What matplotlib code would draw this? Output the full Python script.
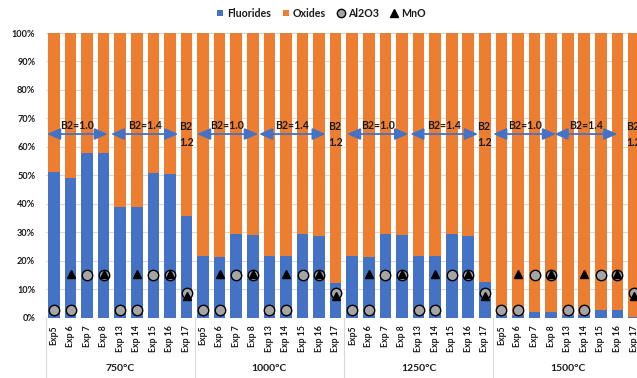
import numpy as np
import matplotlib
matplotlib.use("Agg")
import matplotlib.pyplot as plt
import matplotlib.transforms as mtransforms
from matplotlib.patches import Patch, FancyArrowPatch
from matplotlib.lines import Line2D

plt.rcParams['font.family'] = ['Lato', 'DejaVu Sans']

# --- data -------------------------------------------------------------
experiments = ["Exp5", "Exp 6", "Exp 7", "Exp 8", "Exp 13", "Exp 14", "Exp 15", "Exp 16", "Exp 17"]
temperatures = ["750°C", "1000°C", "1250°C", "1500°C"]

fluorides_750 = [51.0, 48.9, 57.7, 58.0, 38.7, 38.7, 50.7, 50.4, 35.6]
fluorides_1000 = [21.7, 21.4, 29.5, 29.0, 21.7, 21.7, 29.5, 28.8, 12.3]
fluorides_1250 = [21.7, 21.4, 29.5, 29.0, 21.8, 21.8, 29.5, 28.8, 12.5]
fluorides_1500 = [0.8, 0.8, 1.9, 1.9, 0.8, 0.8, 2.5, 2.5, 0.3]

oxides_750 = [49.0, 51.1, 42.3, 42.0, 61.3, 61.3, 49.3, 49.6, 64.4]
oxides_1000 = [78.3, 78.6, 70.5, 71.0, 78.3, 78.3, 70.5, 71.2, 87.7]
oxides_1250 = [78.3, 78.6, 70.5, 71.0, 78.2, 78.2, 70.5, 71.2, 87.5]
oxides_1500 = [99.2, 99.2, 98.1, 98.1, 99.2, 99.2, 97.5, 97.5, 99.7]

al2o3 = [2.5, 2.5, 14.8, 14.8, 2.5, 2.5, 14.8, 14.8, 8.6]
mno = [np.nan, 15.4, np.nan, 15.4, np.nan, 15.4, np.nan, 15.4, 7.5]

b2_labels = ["B2=1.0", "B2=1.4", "B2\n1.2"]

# --- assemble ---------------------------------------------------------
fluorides = np.array(fluorides_750 + fluorides_1000 + fluorides_1250 + fluorides_1500)
oxides = np.array(oxides_750 + oxides_1000 + oxides_1250 + oxides_1500)
al2o3_all = np.array(al2o3 * 4)
mno_all = np.array(mno * 4)
labels = experiments * 4
n_exp = len(experiments)
x = np.arange(len(labels))

BLUE = "#4472C4"
ORANGE = "#ED7D31"
GREY = "#A5A5A5"
GRID = "#D9D9D9"
TXT = "#1a1a1a"

fig = plt.figure(figsize=(6.37, 3.78), dpi=100)
ax = fig.add_axes([0.0717, 0.160, 0.9366, 0.7526])

ax.bar(x, fluorides, width=0.7, color=BLUE, zorder=2)
ax.bar(x, oxides, bottom=fluorides, width=0.7, color=ORANGE, zorder=2)
ax.plot(x, al2o3_all, ls="none", marker="o", ms=7.5, mfc=GREY, mec="black",
        mew=1.0, zorder=4, clip_on=False)
ax.plot(x, mno_all, ls="none", marker="^", ms=5.5, color="black", zorder=5,
        clip_on=False)

ax.set_xlim(-0.5, len(labels) - 0.5)
ax.set_ylim(0, 100)
ax.set_yticks(np.arange(0, 101, 10))
ax.set_yticklabels([f"{v}%" for v in range(0, 101, 10)])
ax.yaxis.grid(True, color=GRID, lw=0.8, zorder=0)
ax.set_axisbelow(True)
for s in ax.spines.values():
    s.set_visible(False)
ax.axhline(0, color=GRID, lw=0.8, zorder=1)

ax.set_xticks(x)
ax.set_xticklabels(labels, rotation=90, ha="center", va="top")
ax.tick_params(axis="x", length=0, pad=5.5, labelsize=6.3, labelcolor=TXT)
ax.tick_params(axis="y", length=0, pad=7.5, labelsize=6.6, labelcolor=TXT)
for lab in ax.get_xticklabels() + ax.get_yticklabels():
    lab.set_fontweight("bold")

# category group separators and temperature labels
trans = mtransforms.blended_transform_factory(ax.transData, ax.transAxes)
for g in range(len(temperatures) + 1):
    xs = g * n_exp - 0.5
    ax.plot([xs, xs], [0, -0.23], transform=trans, clip_on=False,
            color=GRID, lw=0.8)
for g, t in enumerate(temperatures):
    ax.text(g * n_exp + (n_exp - 1) / 2, -0.178, t, transform=trans,
            ha="center", va="center", fontsize=7.5, fontweight="bold", color=TXT)

# basicity arrows
spans = [
    [(-0.42, 3.25), (3.44, 7.5)],
    [(-0.37, 3.31), (3.37, 7.4)],
    [(-0.32, 3.38), (3.5, 7.59)],
    [(-0.5, 3.3), (3.2, 7.0)],
]
arrow_y = 64.5
for g, pair in enumerate(spans):
    off = g * n_exp
    for (a, b), lab in zip(pair, b2_labels[:2]):
        ax.add_patch(FancyArrowPatch((off + a, arrow_y), (off + b, arrow_y),
                                     arrowstyle="<|-|>,head_length=0.8,head_width=0.35",
                                     mutation_scale=10, color=BLUE, lw=1.3,
                                     zorder=6, clip_on=False, shrinkA=0, shrinkB=0))
        ax.text(off + (a + b) / 2, 67.4, lab, ha="center", va="center",
                fontsize=7.6, fontweight="bold", color=TXT, zorder=7)
    ax.text(off + 7.55, 64.2, b2_labels[2], ha="left", va="center",
            fontsize=7.6, fontweight="bold", color=TXT, linespacing=1.55,
            zorder=7, clip_on=False)

handles = [
    Patch(facecolor=BLUE, label="Fluorides"),
    Patch(facecolor=ORANGE, label="Oxides"),
    Line2D([], [], ls="none", marker="o", ms=6, mfc=GREY, mec="black", mew=1.0, label="Al2O3"),
    Line2D([], [], ls="none", marker="^", ms=6, color="black", label="MnO"),
]
leg = fig.legend(handles=handles, loc="center", bbox_to_anchor=(0.504, 0.965),
                 ncol=4, frameon=False, handlelength=0.6, handleheight=0.6,
                 handletextpad=0.35, columnspacing=1.1,
                 prop={"size": 7.7, "weight": "bold"})
for t in leg.get_texts():
    t.set_color(TXT)

fig.savefig("out.png", dpi=100)
